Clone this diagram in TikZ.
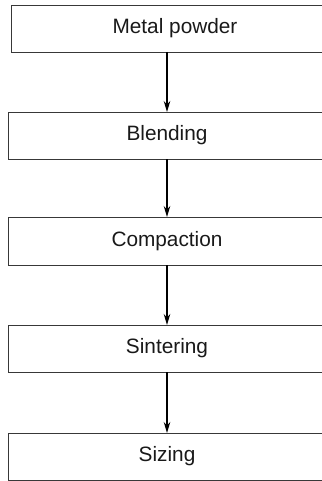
\documentclass[tikz,border=0pt]{standalone}
\usepackage{fontspec}
\setmainfont{Liberation Sans}
\usetikzlibrary{arrows.meta}
\tikzset{> = {Stealth[length=11pt, width=6.5pt]}}
\tikzset{stepbox/.style={rectangle, draw=black!78, line width=0.9pt, minimum width=318pt, minimum height=47pt, inner sep=0pt, outer sep=0pt, font=\fontsize{20.8}{25}\selectfont, text=black!90}}

\begin{document}
\begin{tikzpicture}
\useasboundingbox (0,0) rectangle (321pt,-481pt);
% nodes
\node[stepbox, minimum width=328pt] (metal) at (175pt, -28.5pt) {Metal powder}; % top box sits a bit to the right
\node[stepbox] (blend)   at (167pt, -135.5pt) {Blending};
\node[stepbox, minimum height=48pt] (compact) at (167pt, -241pt) {Compaction};
\node[stepbox] (sinter)  at (167pt, -348.5pt) {Sintering};
\node[stepbox] (size)    at (167pt, -456.5pt) {Sizing};
% edges
\path[->, line width=1.2pt]
(metal.south -| blend) edge (blend)
(blend)   edge (compact)
(compact) edge (sinter)
(sinter)  edge (size);

\end{tikzpicture}
\end{document}
